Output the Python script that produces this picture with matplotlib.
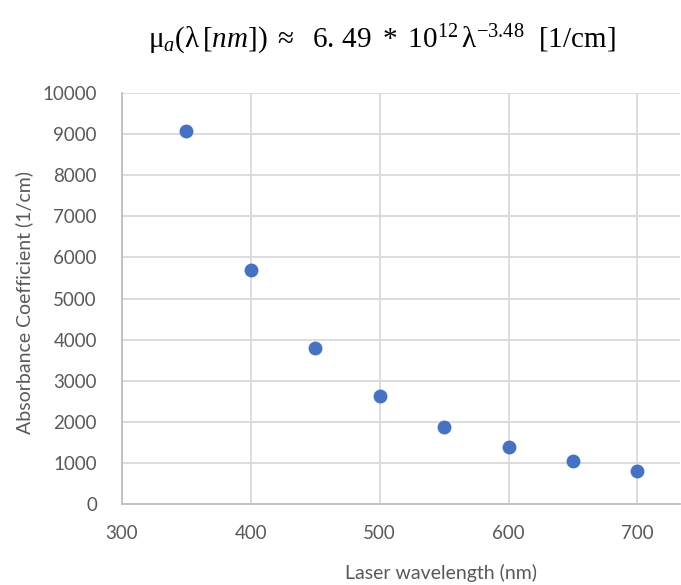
import matplotlib
matplotlib.use("Agg")
from matplotlib import pyplot as plt

# data
wavelength = [350, 400, 450, 500, 550, 600, 650, 700]
absorbance = [9080, 5700, 3800, 2630, 1880, 1390, 1050, 810]
x_ticks = [300, 400, 500, 600, 700]
y_ticks = list(range(0, 10001, 1000))

plt.rcParams['mathtext.fontset'] = 'custom'
plt.rcParams['mathtext.rm'] = 'Liberation Serif'
plt.rcParams['mathtext.it'] = 'Liberation Serif:italic'

fig = plt.figure(figsize=(6.81, 5.85), dpi=100)
ax = fig.add_axes([122 / 681, 1 - 504 / 585, 558 / 681, 411 / 585])

ax.scatter(wavelength, absorbance, s=100, color='#4472C4', zorder=3, linewidths=0)

ax.set_xlim(300, 733)
ax.set_ylim(0, 10000)
ax.set_xticks(x_ticks)
ax.set_yticks(y_ticks)
ax.grid(True, color='#D9D9D9', linewidth=1.3)
for s in ['top', 'right']:
    ax.spines[s].set_visible(False)
for s in ['left', 'bottom']:
    ax.spines[s].set_color('#BFBFBF')
    ax.spines[s].set_linewidth(1.3)
ax.tick_params(length=0, labelcolor='#595959', labelsize=13.5)
ax.tick_params(axis='y', pad=18)
ax.tick_params(axis='x', pad=15)
for lab in ax.get_xticklabels() + ax.get_yticklabels():
    lab.set_family('Lato')

ax.set_xlabel('Laser wavelength (nm)', fontsize=14, color='#595959', family='Lato')
ax.xaxis.set_label_coords(0.572, -0.145)
ax.set_ylabel('Absorbance Coefficient (1/cm)', fontsize=14, color='#595959', family='Lato')
ax.yaxis.set_label_coords(-0.16, 0.49)

fig.text(382 / 681, 1 - 40 / 585,
         r'$\mathrm{\mu}_{a}(\mathrm{\lambda}\,[nm])\ \approx\ \ 6.\,49\ *\ 10^{12}\,\mathrm{\lambda}^{-3.48}\ \ [1/\mathrm{cm}]$',
         fontsize=21, ha='center', va='center', color='black')

fig.savefig('out.png', dpi=100)
